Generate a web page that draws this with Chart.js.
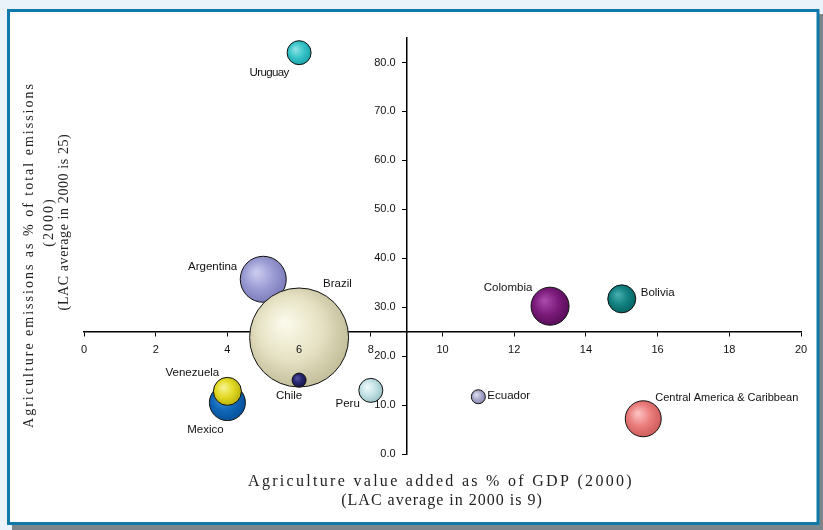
<!DOCTYPE html>
<html>
<head>
<meta charset="utf-8">
<script src="https://cdn.jsdelivr.net/npm/chart.js@4.4.0/dist/chart.umd.min.js"></script>
<style>
  html, body { margin: 0; padding: 0; background: #eaf2fa; }
  #wrap { position: relative; width: 823px; height: 530px; }
</style>
</head>
<body>
<div id="wrap"><canvas id="bubbleChart"></canvas></div>
<script>
// 국가별 데이터
const countries = ['Uruguay', 'Argentina', 'Brazil', 'Chile', 'Mexico', 'Venezuela', 'Peru', 'Ecuador', 'Colombia', 'Bolivia', 'Central America & Caribbean'];
const agriGdp   = [6.0, 5.0, 6.0, 6.0, 4.0, 4.0, 8.0, 11.0, 13.0, 15.0, 15.6];
const agriEmis  = [82.0, 35.7, 23.8, 15.1, 10.5, 12.8, 13.0, 11.7, 30.2, 31.7, 7.2];
const bubbleR   = [12, 23, 49.5, 7, 18, 14, 12, 7, 19, 14, 18];
const xTicks    = [0, 2, 4, 6, 8, 10, 12, 14, 16, 18, 20];
const yTicks    = [0, 10, 20, 30, 40, 50, 60, 70, 80];
const lacAvgGdp = 9;
const lacAvgEmis = 25;

// 색상: [하이라이트, 기본, 가장자리]
const shades = [
    ['#8ae0e4', '#38c4c8', '#1ea4ac'],
    ['#cacaee', '#9c9cd4', '#7c7cbc'],
    ['#fbfaea', '#e6e2c4', '#c4c09c'],
    ['#5050a0', '#26266e', '#16164c'],
    ['#4898dc', '#1068b8', '#08529c'],
    ['#f6f290', '#e2da22', '#bcb410'],
    ['#eef8f8', '#c4e2e6', '#9cc4c8'],
    ['#dcdcee', '#aaaacc', '#8a8ab2'],
    ['#a848a8', '#7c1c7c', '#5a0e5a'],
    ['#48acac', '#128282', '#066464'],
    ['#fcc0c0', '#ea7c7c', '#d05e5e']
];
// 라벨 위치 (거품 중심 기준 오프셋)
const labelPos = [
    [-30, 20, 'center'], [-26, -12, 'right'], [24, -54, 'left'], [-10, 16, 'center'],
    [-22, 27, 'center'], [-35, -19, 'center'], [-11, 13, 'right'], [9, -1, 'left'],
    [-42, -18, 'center'], [19, -6, 'left'], [12, -21, 'left']
];

function bubbleFill(c) {
    const i = c.dataIndex;
    if (c.type !== 'data' || !c.chart.scales.x) return shades[i][1];
    const ch = c.chart;
    const cx = ch.scales.x.getPixelForValue(c.raw.x);
    const cy = ch.scales.y.getPixelForValue(c.raw.y);
    const r = c.raw.r;
    if (!Number.isFinite(cx) || !Number.isFinite(cy)) return shades[i][1];
    const g = ch.ctx.createRadialGradient(cx - r * 0.3, cy - r * 0.3, r * 0.05, cx - r * 0.1, cy - r * 0.1, r * 1.1);
    g.addColorStop(0, shades[i][0]);
    g.addColorStop(0.55, shades[i][1]);
    g.addColorStop(1, shades[i][2]);
    return g;
}

// 바깥 프레임 (연한 배경 + 파란 테두리 + 그림자)
const framePlugin = {
    id: 'frame',
    beforeDraw(chart) {
        const ctx = chart.ctx;
        ctx.save();
        ctx.fillStyle = '#eaf2fa';
        ctx.fillRect(0, 0, chart.width, chart.height);
        ctx.fillStyle = '#7c848c';
        ctx.fillRect(12, 14, 811, 516);
        ctx.fillStyle = '#ffffff';
        ctx.fillRect(8, 10, 811, 515);
        ctx.strokeStyle = '#0f7aa8';
        ctx.lineWidth = 3;
        ctx.strokeRect(8.5, 10.5, 809.5, 513);
        ctx.restore();
    }
};

// 축 제목 (자간 넓은 세리프체)
const titlePlugin = {
    id: 'axisTitles',
    afterDraw(chart) {
        const ctx = chart.ctx;
        ctx.save();
        ctx.fillStyle = '#222';
        ctx.textAlign = 'center';
        ctx.textBaseline = 'middle';
        ctx.letterSpacing = '2.3px';
        ctx.font = '16px "Liberation Serif", serif';
        ctx.fillText('Agriculture value added as % of GDP (2000)', 441, 482);
        ctx.letterSpacing = '1px';
        ctx.fillText('(LAC average in 2000 is 9)', 442, 501);

        ctx.translate(29, 255);
        ctx.rotate(-Math.PI / 2);
        ctx.letterSpacing = '2px';
        ctx.font = '14px "Liberation Serif", serif';
        ctx.fillText('Agriculture emissions as % of total emissions', 0, 0);
        ctx.fillText('(2000)', 33, 20);
        ctx.letterSpacing = '0.6px';
        ctx.fillText('(LAC average in 2000 is 25)', 33, 35);
        ctx.restore();
    }
};

// 거품 옆 국가 라벨
const labelPlugin = {
    id: 'countryLabels',
    afterDatasetsDraw(chart) {
        const ctx = chart.ctx;
        const meta = chart.getDatasetMeta(0);
        ctx.save();
        ctx.fillStyle = '#111';
        ctx.textBaseline = 'middle';
        meta.data.forEach((pt, i) => {
            const lp = labelPos[i];
            ctx.textAlign = lp[2];
            ctx.font = i === 10 ? '11px "Liberation Sans", sans-serif' : '11.5px "Liberation Sans", sans-serif';
            ctx.letterSpacing = i === 0 ? '-0.6px' : '0px';
            ctx.fillText(countries[i], pt.x + lp[0], pt.y + lp[1]);
        });
        ctx.restore();
    }
};

const pts = countries.map((c, i) => ({ x: agriGdp[i], y: agriEmis[i], r: bubbleR[i] }));
const tickFont = { family: '"Liberation Sans", sans-serif', size: 11 };

new Chart(document.getElementById('bubbleChart').getContext('2d'), {
    type: 'bubble',
    data: {
        datasets: [{
            label: 'LAC',
            data: pts,
            backgroundColor: bubbleFill,
            borderColor: '#111',
            borderWidth: 1,
            hoverRadius: 0
        }]
    },
    options: {
        responsive: true,
        maintainAspectRatio: false,
        animation: false,
        layout: { autoPadding: false, padding: { left: 84, right: 22, top: 38, bottom: 76 } },
        plugins: { legend: { display: false }, tooltip: { enabled: false } },
        scales: {
            x: {
                type: 'linear',
                min: 0, max: 20,
                position: { y: lacAvgEmis },
                afterBuildTicks: s => { s.ticks = xTicks.map(v => ({ value: v })); },
                grid: { drawOnChartArea: false, drawTicks: true, tickLength: 4, color: '#000' },
                border: { display: true, color: '#000', width: 1.5 },
                // 눈금 숫자는 거품 위에 그림 (축선은 거품 뒤)
                ticks: { color: '#111', font: tickFont, padding: 8, maxRotation: 0, z: 1 }
            },
            y: {
                type: 'linear',
                min: 0, max: 85,
                position: { x: lacAvgGdp },
                afterBuildTicks: s => { s.ticks = yTicks.map(v => ({ value: v })); },
                grid: { drawOnChartArea: false, drawTicks: true, tickLength: 4, color: '#000' },
                border: { display: true, color: '#000', width: 1.5 },
                // 축 위치가 객체일 때 라벨이 축선에 붙으므로 공백으로 간격 확보
                ticks: { color: '#111', font: tickFont, callback: v => v.toFixed(1) + '\u2002\u2002' }
            }
        }
    },
    plugins: [framePlugin, labelPlugin, titlePlugin]
});
</script>
</body>
</html>
